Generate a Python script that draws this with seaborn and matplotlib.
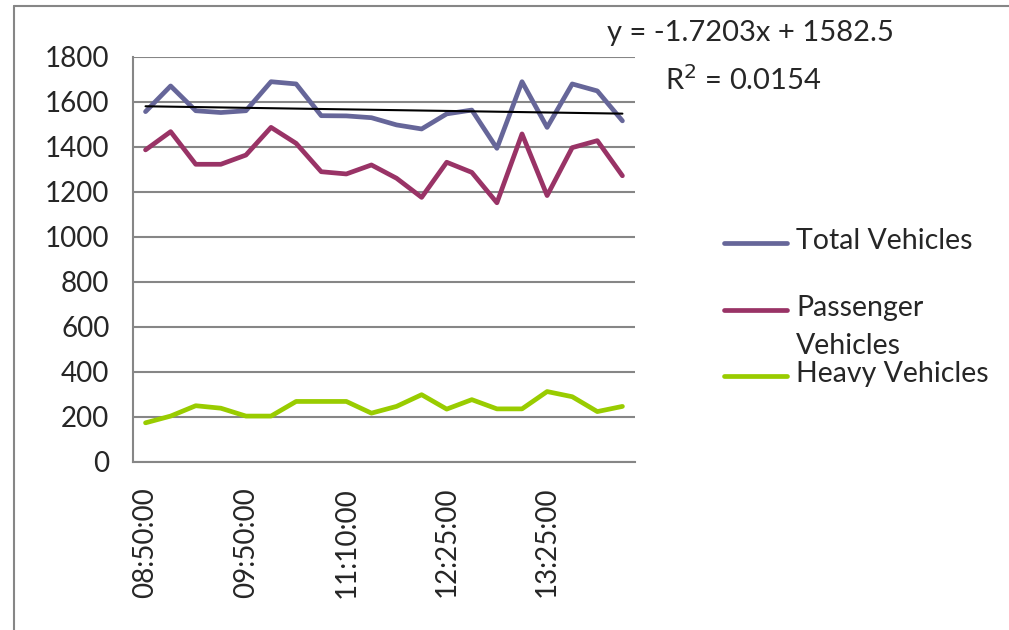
import matplotlib
matplotlib.use("Agg")
import matplotlib.pyplot as plt
from matplotlib.lines import Line2D
import numpy as np
import pandas as pd
import seaborn as sns

# sampling times (only every 4th one is printed on the axis)
times = ["08:50:00", "09:05:00", "09:20:00", "09:35:00", "09:50:00",
         "10:10:00", "10:30:00", "10:50:00", "11:10:00", "11:30:00",
         "11:50:00", "12:10:00", "12:25:00", "12:40:00", "12:55:00",
         "13:10:00", "13:25:00", "13:40:00", "13:55:00", "14:10:00"]
total = [1557, 1671, 1561, 1553, 1561, 1690, 1680, 1539, 1538, 1530,
         1498, 1480, 1547, 1564, 1394, 1690, 1487, 1680, 1649, 1516]
passenger = [1387, 1468, 1323, 1323, 1364, 1487, 1416, 1290, 1280, 1320,
             1261, 1176, 1332, 1287, 1152, 1458, 1184, 1397, 1428, 1272]
heavy = [174, 204, 250, 239, 204, 204, 269, 269, 269, 217,
         247, 299, 235, 277, 236, 236, 313, 290, 224, 247]
series_names = ["Total Vehicles", "Passenger Vehicles", "Heavy Vehicles"]
colors = ["#666699", "#993366", "#99CC00"]

# linear trend printed on the chart (x = 1..n)
slope, intercept, r2 = -1.7203, 1582.5, 0.0154

idx = np.arange(len(times))
df = pd.DataFrame({
    "idx": np.tile(idx, 3),
    "value": total + passenger + heavy,
    "series": np.repeat(series_names, len(times)),
})

sns.set_style("white")
plt.rcParams["font.family"] = ["Lato", "DejaVu Sans"]
grey = "#868686"

fig = plt.figure(figsize=(10.09, 6.30), dpi=100)
ax = fig.add_axes([0.1318, 0.2667, 0.4975, 0.6429])

sns.lineplot(data=df, x="idx", y="value", hue="series", hue_order=series_names,
             palette=colors, linewidth=3.4, ax=ax, legend=False)

trend = intercept + slope * (idx + 1)
ax.plot(idx, trend, color="black", linewidth=1.5)

ax.set_xlim(-0.5, len(times) - 0.5)
ax.set_ylim(0, 1800)
ax.set_yticks(np.arange(0, 1801, 200))
ax.yaxis.grid(True, color=grey, linewidth=1.5)
ax.set_axisbelow(True)

ax.set_xticks(idx[::4])
ax.set_xticklabels(times[::4], rotation=90, va="top", ha="center")
ax.set_xticks(np.arange(-0.5, len(times)), minor=True)
ax.tick_params(axis="x", which="major", length=0, pad=18, labelsize=20)
ax.tick_params(axis="x", which="minor", length=7, width=1.5, color=grey, direction="out")
ax.tick_params(axis="y", length=7, width=1.5, color=grey, pad=10, labelsize=20)
ax.set_xlabel("")
ax.set_ylabel("")

for side in ["top", "right"]:
    ax.spines[side].set_visible(False)
for side in ["left", "bottom"]:
    ax.spines[side].set_color(grey)
    ax.spines[side].set_linewidth(1.5)

# legend, laid out like the spreadsheet one (second entry wraps onto two lines)
W, H = 1009, 630
legend_rows = [243, 310, 376]
legend_text = ["Total Vehicles", "Passenger\nVehicles", "Heavy Vehicles"]
for y, c, lab in zip(legend_rows, colors, legend_text):
    fig.add_artist(Line2D([724 / W, 787 / W], [1 - y / H, 1 - y / H],
                          color=c, linewidth=3.4, transform=fig.transFigure))
    fig.text(796 / W, 1 - (y - 15) / H, lab, fontsize=20.5, ha="left", va="top",
             linespacing=1.55)

# trendline equation
fig.text(0.7435, 0.947, "y = -1.7203x + 1582.5", fontsize=21, ha="center", va="center")
fig.text(0.737, 0.873, "R$^2$ = %.4f" % r2, fontsize=21, ha="center", va="center")

# chart frame (only top and left edges fall inside the image)
fig.add_artist(Line2D([14 / W, 1.0], [1 - 6 / H, 1 - 6 / H], color=grey,
                      linewidth=1.5, transform=fig.transFigure))
fig.add_artist(Line2D([14 / W, 14 / W], [0.0, 1 - 6 / H], color=grey,
                      linewidth=1.5, transform=fig.transFigure))

fig.savefig("out.png", dpi=100)
